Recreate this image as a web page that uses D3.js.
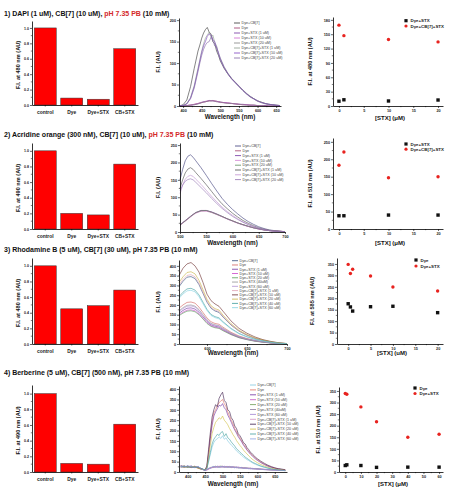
<!DOCTYPE html>
<html><head><meta charset="utf-8">
<script src="https://cdn.jsdelivr.net/npm/d3@7"></script>
<style>
body{margin:0;background:#fff}
svg{display:block}
text{font-family:"Liberation Sans",Arial,sans-serif}
</style>
</head><body>
<svg id="chart" width="457" height="498"></svg>
<script>
// ---------------- DATA ----------------
const titleRow1 = ["1) DAPI (1 uM), CB[7] (10 uM), ", "pH 7.35 PB", " (10 mM)"];
const titleRow2 = ["2) Acridine orange (300 nM), CB[7] (10 uM), ", "pH 7.35 PB", " (10 mM)"];
const titleRow3 = ["3) Rhodamine B (5 uM), CB[7] (30 uM), pH 7.35 PB (10 mM)"];
const titleRow4 = ["4) Berberine (5 uM), CB[7] (500 nM), pH 7.35 PB (10 mM)"];

const barCategories = ["control", "Dye", "Dye+STX", "CB+STX"];
const bar1Values = [1.0, 0.09, 0.075, 0.73];
const bar2Values = [1.0, 0.20, 0.18, 0.83];
const bar3Values = [1.0, 0.45, 0.49, 0.69];
const bar4Values = [1.0, 0.11, 0.10, 0.61];
const barTicks = [0, 0.2, 0.4, 0.6, 0.8, 1.0];

const spec8Labels = ["Dye+CB[7]", "Dye", "Dye+STX (1 uM)", "Dye+STX (10 uM)", "Dye+STX (20 uM)",
  "Dye+CB[7]+STX (1 uM)", "Dye+CB[7]+STX (10 uM)", "Dye+CB[7]+STX (20 uM)"];
const spec12Labels = ["Dye+CB[7]", "Dye", "Dye+STX (1 uM)", "Dye+STX (10 uM)", "Dye+STX (20 uM)",
  "Dye+STX (40uM)", "Dye+STX (60 uM)", "Dye+CB[7]+STX (1 uM)", "Dye+CB[7]+STX (10 uM)",
  "Dye+CB[7]+STX (20 uM)", "Dye+CB[7]+STX (40 uM)", "Dye+CB[7]+STX (60 uM)"];

// Panel 1 spectra (DAPI)
const spec1Wavelengths = [390,400,410,420,430,440,445,450,455,460,465,470,475,480,485,490,495,500,510,520,530,540,550,560,570,580,590,600,610,620,630,640,650,660];
const spec1Series = [
  [0,3,14,45,88,128,142,158,170,178,183,172,168,150,145,128,118,105,88,75,64,55,46,37,29,22,17,12,9,6,4,3,2,1],
  [0,0,1,2,4,6,7,8,9,10,11,12,12,13,12,11,10,9,8,7,6,5,4,3,3,2,2,1,1,1,0,0,0,0],
  [0,0,1,2,3,5,7,8,10,10,11,13,12,12,11,11,10,9,8,7,6,5,4,4,3,2,2,1,1,1,0,0,0,0],
  [0,0,1,2,4,6,7,9,9,11,12,12,13,12,12,10,10,8,8,7,6,5,4,3,3,2,1,1,1,0,0,0,0,0],
  [0,0,1,2,3,5,6,8,9,10,11,12,12,12,11,10,9,9,7,6,6,5,4,3,2,2,2,1,1,0,0,0,0,0],
  [0,1,6,20,48,88,108,128,145,158,165,172,160,165,148,140,122,112,92,77,65,56,47,38,30,23,17,12,9,6,4,3,2,1],
  [0,1,5,18,45,84,105,125,140,150,162,168,165,155,150,135,125,110,90,76,64,55,46,37,29,22,17,12,8,6,4,3,2,1],
  [0,1,5,17,42,80,100,118,132,142,148,150,160,152,140,138,120,108,90,75,63,54,45,36,28,21,16,11,8,5,4,3,1,0]
];
const spec1Colors = ["#333333","#993366","#7030a0","#cc66cc","#808080","#8a9a8a","#7b3fbf","#8064a2"];

// Panel 2 spectra (Acridine orange)
const spec2Wavelengths = [500,505,510,515,520,525,530,540,550,560,570,580,590,600,610,620,630,640,650,660,670,680,690,700];
const spec2Series = [
  [150,180,205,218,222,215,205,185,163,140,118,97,80,65,52,40,30,22,15,10,6,4,2,1],
  [20,26,32,38,44,50,55,61,61,57,51,44,38,32,26,21,16,12,9,6,4,3,2,1],
  [21,27,33,39,45,51,56,62,62,58,52,45,38,32,26,21,16,12,9,6,4,3,2,1],
  [19,25,31,37,43,49,54,60,60,56,50,44,37,31,25,20,16,12,8,6,4,3,2,1],
  [20,26,32,38,45,50,56,61,62,57,51,45,38,32,26,21,17,12,9,6,4,3,2,1],
  [125,150,170,181,185,180,171,154,136,117,98,81,67,54,43,33,25,18,12,8,5,3,2,1],
  [110,135,152,160,163,160,152,137,120,103,87,72,59,48,38,29,22,16,11,7,4,3,2,1],
  [118,135,146,151,153,150,143,128,113,97,82,68,56,45,36,28,21,15,10,7,4,2,1,1]
];
const spec2Colors = ["#3b3b78","#a0406a","#7030a0","#d080d0","#5a8a5a","#4a4a4a","#c090d0","#9070b0"];

// Panel 3 spectra (Rhodamine B)
const spec3Wavelengths = [565,570,575,580,585,590,595,600,605,610,615,620,630,640,650,660,670,680,690,700];
const spec3Series = [
  [293,321,342,345,335,304,259,214,183,169,162,138,97,66,45,29,19,10,5,2],
  [183,200,213,215,209,189,161,133,114,105,101,86,60,41,28,18,12,6,3,1],
  [157,172,183,185,179,163,139,115,98,91,87,74,52,35,24,16,10,6,3,1],
  [149,163,173,175,170,154,131,109,93,86,82,70,49,33,23,15,10,5,3,1],
  [145,158,168,170,165,150,128,105,90,83,80,68,48,32,22,14,9,5,3,1],
  [170,186,198,200,194,176,150,124,106,98,94,80,56,38,26,17,11,6,3,1],
  [166,181,193,195,189,172,146,121,103,96,92,78,55,37,25,17,11,6,3,1],
  [302,330,351,355,344,312,266,220,188,174,167,142,99,67,46,30,20,11,5,2],
  [350,388,410,417,400,368,315,255,222,205,193,168,118,80,55,36,22,13,6,2],
  [315,344,366,370,359,326,278,229,196,181,174,148,104,70,48,31,20,11,6,2],
  [242,265,282,285,276,251,214,177,151,140,134,114,80,54,37,24,16,9,4,1],
  [234,256,272,275,267,242,206,171,146,135,129,110,77,52,36,23,15,8,4,1]
];
const spec3Colors = ["#2e4a7a","#d0605a","#7030a0","#cc44cc","#55a055","#909090","#b090d0","#e0a0b0","#6a2a2a","#c8b040","#3a9a9a","#80d0e0"];

// Panel 4 spectra (Berberine)
const spec4Wavelengths = [380,390,400,410,420,430,440,450,455,460,465,470,475,480,485,490,495,500,505,510,515,520,525,530,535,540,545,550,555,560,565,570,575,580,585,590,595,600,610,620,630,640,650,660,670,680];
const spec4Series = [
  [27,23,28,21,25,22,13, 11,17,50,85,120,142,155,160,170,162,175,158,165,150,140,130,122,112,102,95,86,80,72,66,60,55,50,45,40,37,33, 27,22,18,14,11,9,8,6],
  [26,30,22,27,24,18,12, 12,25,95,175,240,285,300,320,335,342,350,330,315,290,270,250,232,210,195,178,165,150,135,125,110,100,90,82,74,66,60, 48,38,30,24,19,15,12,10],
  [24,27,25,29,21,23,14, 8,22,85,160,225,270,290,305,322,318,330,310,300,275,258,240,220,202,188,170,158,145,130,118,106,96,86,78,70,62,56, 45,36,28,22,18,14,12,9],
  [29,25,27,23,26,21,14, 8,10,14,18,21,24,26,22,27,25,28,23,26,24,27,22,25,23,21,24,20,22,19,21,18,19,17,18,16,17,15, 14,13,12,11,10,10,9,8],
  [24,28,22,27,23,25,16, 10,12,16,20,24,22,28,25,23,29,26,24,27,22,25,26,21,24,22,20,23,19,21,18,20,17,19,16,17,15,16, 13,12,12,10,11,9,9,7],
  [26,22,29,24,27,20,13, 9,11,15,22,20,26,24,28,25,22,27,25,23,27,24,21,26,22,24,21,19,22,18,20,17,18,16,17,15,16,14, 14,12,11,11,9,10,8,8],
  [30,26,24,28,22,26,15, 7,13,17,19,23,25,22,27,24,26,23,28,24,25,22,26,23,21,24,22,20,21,19,17,19,16,18,15,17,14,15, 13,13,11,10,10,9,8,7],
  [23,27,26,22,28,23,12, 11,9,13,21,22,23,27,24,29,24,25,22,28,23,26,24,22,25,20,23,21,18,20,19,16,18,17,15,16,15,13, 12,12,10,11,9,8,9,7],
  [30,24,28,22,26,20,15, 10,30,110,190,265,300,325,315,355,372,385,345,335,300,292,262,250,222,210,185,175,160,142,135,118,108,95,88,80,70,64, 52,42,33,26,20,16,14,11],
  [28,22,26,24,27,19,13, 10,20,70,130,185,215,240,250,262,255,270,250,240,228,210,196,180,168,152,140,128,118,106,96,88,78,70,62,56,50,45, 36,29,23,18,15,12,10,8],
  [25,29,23,26,22,24,15, 9,18,55,95,135,158,170,182,176,190,195,172,185,165,158,145,135,125,112,105,95,88,80,72,66,60,54,48,44,40,36, 29,24,19,15,12,10,8,7],
  [27,24,30,25,23,27,14, 8,12,18,17,25,27,23,26,22,27,24,26,21,26,23,25,24,20,23,19,22,20,17,19,18,16,15,17,14,16,14, 13,11,11,10,9,9,8,6]
];
const spec4Colors = ["#80c8e0","#e07060","#7030a0","#c050c0","#6a9a50","#8a7a9a","#a080d0","#d090c0","#3a1a4a","#d0c040","#40a0a0","#8aa0e0"];

// Scatter panels
const scat1X = [0, 1, 10, 20];
const scat1Black = [10, 13, 10.5, 12.5];
const scat1Red = [169, 147, 139, 134];
const scat2X = [0, 1, 10, 20];
const scat2Black = [38, 38, 40, 40];
const scat2Red = [183, 221, 147, 150];
const scat3X = [0, 0.5, 1, 5, 10, 20];
const scat3Black = [176, 162, 144, 163, 165, 137];
const scat3Red = [348, 308, 327, 297, 249, 232];
const scat4X = [0, 1, 10, 20, 40, 60];
const scat4Black = [28, 31, 28, 20, 21, 21];
const scat4Red = [339, 336, 281, 217, 150, 163];

// tick labels
const spec1XTicks = [400,450,500,550,600,650], spec1YTicks = [0,50,100,150,200];
const spec2XTicks = [500,550,600,650,700], spec2YTicks = [0,50,100,150,200,250];
const spec3XTicks = [600,650,700], spec3YTicks = [0,50,100,150,200,250,300,350,400];
const spec4XTicks = [400,450,500,550,600,650], spec4YTicks = [0,50,100,150,200,250,300,350,400];
const scat12XTicks = [0,5,10,15,20];
const scat1YTicks = [0,30,60,90,120,150,180];
const scat2YTicks = [0,50,100,150,200,250];
const scat3XTicks = [0,5,10,15,20], scat3YTicks = [0,50,100,150,200,250,300,350];
const scat4XTicks = [0,10,20,30,40,50,60], scat4YTicks = [0,50,100,150,200,250,300,350];

// ---------------- DRAWING ----------------
const svg = d3.select("#chart");

function midpoints(t) { const m = []; for (let i = 0; i < t.length - 1; i++) m.push((t[i] + t[i+1]) / 2); return m; }

function styleAxis(g, fs) {
  g.select(".domain").attr("stroke", "#000").attr("stroke-width", 0.8);
  g.selectAll(".tick line").attr("stroke", "#000").attr("stroke-width", 0.6);
  g.selectAll(".tick text").attr("font-size", fs).attr("font-weight", "bold").attr("fill", "#222")
    .style("font-family", '"Liberation Sans", Arial, sans-serif');
}

function linearAxes(g, x, y, xTicks, yTicks, yFmt) {
  const y0 = y.range()[0], x0 = x.range()[0];
  const gx = g.append("g").attr("transform", `translate(0,${y0})`)
    .call(d3.axisBottom(x).tickValues(xTicks).tickSize(2).tickSizeOuter(0).tickPadding(1).tickFormat(d3.format("d")));
  styleAxis(gx, 3.8);
  gx.selectAll("line.mn").data(midpoints(xTicks)).enter().append("line").attr("class", "mn")
    .attr("x1", d => x(d)).attr("x2", d => x(d)).attr("y1", 0).attr("y2", 1.2).attr("stroke", "#000").attr("stroke-width", 0.5);
  const gy = g.append("g").attr("transform", `translate(${x0},0)`)
    .call(d3.axisLeft(y).tickValues(yTicks).tickSize(2).tickSizeOuter(0).tickPadding(1).tickFormat(yFmt || d3.format("d")));
  styleAxis(gy, 3.8);
  gy.selectAll("line.mn").data(midpoints(yTicks)).enter().append("line").attr("class", "mn")
    .attr("y1", d => y(d)).attr("y2", d => y(d)).attr("x1", 0).attr("x2", -1.2).attr("stroke", "#000").attr("stroke-width", 0.5);
}

function yLabel(x, y, txt, fs) {
  svg.append("text").attr("transform", `translate(${x},${y}) rotate(-90)`).attr("text-anchor", "middle")
    .attr("dy", "0.35em").attr("font-size", fs).attr("font-weight", "bold").attr("fill", "#111").text(txt);
}
function xLabel(x, y, txt, fs) {
  svg.append("text").attr("x", x).attr("y", y).attr("text-anchor", "middle").attr("dy", "0.35em")
    .attr("font-size", fs).attr("font-weight", "bold").attr("fill", "#111").text(txt);
}

function title(y, parts) {
  const t = svg.append("text").attr("x", 4).attr("y", y).attr("font-size", 7).attr("font-weight", "bold");
  parts.forEach((p, i) => t.append("tspan").text(p).attr("fill", (parts.length > 1 && i === 1) ? "#d42a2a" : "#111"));
}

function barPanel(L, values, label) {
  const x = d3.scaleBand().domain(barCategories).range([32, 138]).paddingInner(0.17).paddingOuter(0.085);
  const y = d3.scaleLinear().domain([0, L.ymax]).range([L.yb, L.yt]);
  const g = svg.append("g");
  g.selectAll("rect").data(values).enter().append("rect")
    .attr("x", (d, i) => x(barCategories[i])).attr("width", x.bandwidth())
    .attr("y", d => y(d)).attr("height", d => y(0) - y(d))
    .attr("fill", "#ff0000").attr("stroke", "#333").attr("stroke-width", 0.5);
  const gx = g.append("g").attr("transform", `translate(0,${y(0)})`)
    .call(d3.axisBottom(x).tickSize(1.5).tickSizeOuter(0).tickPadding(4.3));
  styleAxis(gx, 4.9);
  const gy = g.append("g").attr("transform", `translate(32,0)`)
    .call(d3.axisLeft(y).tickValues(barTicks).tickSize(2).tickSizeOuter(0).tickPadding(1).tickFormat(d3.format(".1f")));
  styleAxis(gy, 3.6);
  gy.selectAll("line.mn").data(midpoints(barTicks)).enter().append("line")
    .attr("y1", d => y(d)).attr("y2", d => y(d)).attr("x1", 0).attr("x2", -1.2).attr("stroke", "#000").attr("stroke-width", 0.5);
  yLabel(18, (L.yb + L.yt) / 2 + 2, label, 5.6);
}

function specPanel(L, wl, series, colors, labels, xTicks, yTicks) {
  const x = d3.scaleLinear().domain(L.xd).range(L.xr);
  const y = d3.scaleLinear().domain(L.yd).range(L.yr);
  const g = svg.append("g");
  const line = d3.line().x((d, i) => x(wl[i])).y(d => y(d));
  g.selectAll("path.s").data(series).enter().append("path").attr("class", "s")
    .attr("d", d => line(d)).attr("fill", "none").attr("stroke", (d, i) => colors[i]).attr("stroke-width", 0.6);
  linearAxes(g, x, y, xTicks, yTicks);
  labels.forEach((lab, i) => {
    const yy = L.ly + i * L.ldy;
    g.append("line").attr("x1", L.lx).attr("x2", L.lx + 6).attr("y1", yy).attr("y2", yy)
      .attr("stroke", colors[i]).attr("stroke-width", 0.8);
    g.append("text").attr("x", L.lx + 7.5).attr("y", yy).attr("dy", "0.35em").attr("font-size", 3.7)
      .attr("fill", "#444").text(lab);
  });
  yLabel(158, (L.yr[0] + L.yr[1]) / 2, "F.I. (AU)", 5.8);
  xLabel((L.xr[0] + L.xr[1]) / 2, L.xlabY, "Wavelength (nm)", 6.3);
}

function scatPanel(L, xs, blk, red, names, xTicks, yTicks, ylab, xlab) {
  const x = d3.scaleLinear().domain(L.xd).range(L.xr);
  const y = d3.scaleLinear().domain(L.yd).range(L.yr);
  const g = svg.append("g");
  linearAxes(g, x, y, xTicks, yTicks);
  g.selectAll("rect.b").data(blk).enter().append("rect").attr("class", "b")
    .attr("x", (d, i) => x(xs[i]) - 1.7).attr("y", d => y(d) - 1.7).attr("width", 3.4).attr("height", 3.4).attr("fill", "#111");
  g.selectAll("circle.r").data(red).enter().append("circle").attr("class", "r")
    .attr("cx", (d, i) => x(xs[i])).attr("cy", d => y(d)).attr("r", 1.7).attr("fill", "#e8231f");
  g.append("rect").attr("x", L.lgx - 1.6).attr("y", L.lgy - 1.6).attr("width", 3.2).attr("height", 3.2).attr("fill", "#111");
  g.append("circle").attr("cx", L.lgx).attr("cy", L.lgy + L.lgdy).attr("r", 1.6).attr("fill", "#e8231f");
  g.append("text").attr("x", L.lgx + 4.5).attr("y", L.lgy).attr("dy", "0.35em").attr("font-size", 4.4).attr("font-weight", "bold").attr("fill", "#222").text(names[0]);
  g.append("text").attr("x", L.lgx + 4.5).attr("y", L.lgy + L.lgdy).attr("dy", "0.35em").attr("font-size", 4.4).attr("font-weight", "bold").attr("fill", "#222").text(names[1]);
  yLabel(L.ylx, (L.yr[0] + L.yr[1]) / 2, ylab, 5.6);
  xLabel((L.xr[0] + L.xr[1]) / 2 + 2, L.xlabY, xlab, 6);
}

// Row 1
title(15.8, titleRow1);
barPanel({yb: 105, yt: 21, ymax: 1.09}, bar1Values, "F.I. at 480 nm (AU)");
specPanel({xr: [179, 281], xd: [389, 663], yr: [106, 18], yd: [0, 205], lx: 234, ly: 23, ldy: 5, xlabY: 116.5},
  spec1Wavelengths, spec1Series, spec1Colors, spec8Labels, spec1XTicks, spec1YTicks);
scatPanel({xr: [333, 443], xd: [-1.2, 21], yr: [106, 17], yd: [0, 186], lgx: 406, lgy: 20.7, lgdy: 5.3, ylx: 310, xlabY: 118},
  scat1X, scat1Black, scat1Red, ["Dye+STX", "Dye+CB[7]+STX"], scat12XTicks, scat1YTicks, "F.I. at 480 nm (AU)", "[STX] (\u03bcM)");

// Row 2
title(136.5, titleRow2);
barPanel({yb: 229, yt: 143, ymax: 1.1}, bar2Values, "F.I. at 490 nm (AU)");
specPanel({xr: [180, 285], xd: [500, 700], yr: [232, 143], yd: [0, 256], lx: 235, ly: 146, ldy: 4.8, xlabY: 243},
  spec2Wavelengths, spec2Series, spec2Colors, spec8Labels, spec2XTicks, spec2YTicks);
scatPanel({xr: [333, 443], xd: [-1.2, 21], yr: [229, 138], yd: [0, 261], lgx: 406, lgy: 144, lgdy: 5.2, ylx: 310, xlabY: 243},
  scat2X, scat2Black, scat2Red, ["Dye+STX", "Dye+CB[7]+STX"], scat12XTicks, scat2YTicks, "F.I. at 510 nm (AU)", "[STX] (\u03bcM)");

// Row 3
title(251.5, titleRow3);
barPanel({yb: 344, yt: 258, ymax: 1.1}, bar3Values, "F.I. at 480 nm (AU)");
specPanel({xr: [179, 287], xd: [565, 700], yr: [344, 260], yd: [0, 430], lx: 232, ly: 260.7, ldy: 4.27, xlabY: 353},
  spec3Wavelengths, spec3Series, spec3Colors, spec12Labels, spec3XTicks, spec3YTicks);
scatPanel({xr: [337, 443], xd: [-2.5, 21.2], yr: [344, 258], yd: [0, 376], lgx: 416, lgy: 260, lgdy: 6, ylx: 312, xlabY: 353},
  scat3X, scat3Black, scat3Red, ["Dye", "Dye+STX"], scat3XTicks, scat3YTicks, "F.I. at 585 nm (AU)", "[STX] (uM)");

// Row 4
title(375, titleRow4);
barPanel({yb: 472, yt: 385, ymax: 1.11}, bar4Values, "F.I. at 490 nm (AU)");
specPanel({xr: [179, 287], xd: [375, 685], yr: [472, 386], yd: [0, 415], lx: 250, ly: 385, ldy: 4.9, xlabY: 484},
  spec4Wavelengths, spec4Series, spec4Colors, spec12Labels, spec4XTicks, spec4YTicks);
scatPanel({xr: [339, 443], xd: [-4, 62.5], yr: [472, 387], yd: [0, 367], lgx: 415, lgy: 388, lgdy: 5.5, ylx: 318, xlabY: 484},
  scat4X, scat4Black, scat4Red, ["Dye", "Dye+STX"], scat4XTicks, scat4YTicks, "F.I. at 510 nm (AU)", "[STX] (\u03bcM)");
</script>
</body></html>
